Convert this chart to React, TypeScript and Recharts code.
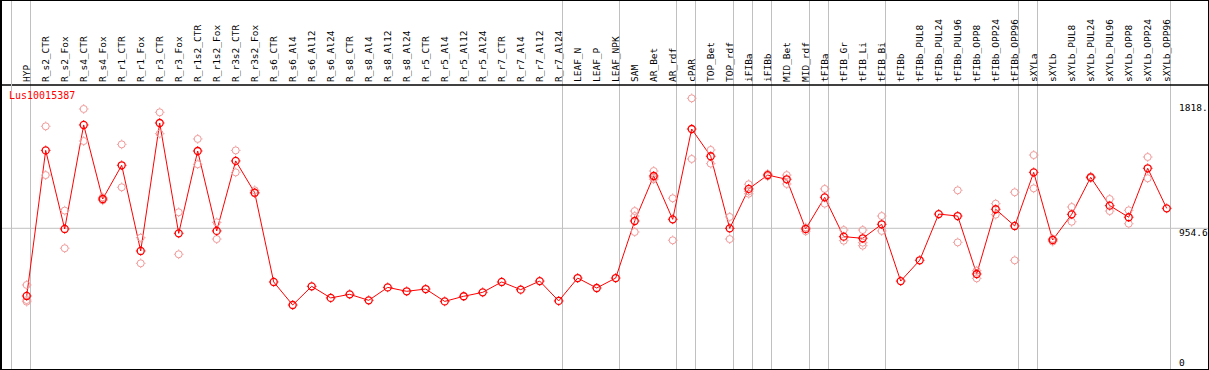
import React from "react";
import { LineChart, Line, XAxis, YAxis, ReferenceLine } from "recharts";

const categories = [
  "HYP", "R_s2_CTR", "R_s2_Fox", "R_s4_CTR", "R_s4_Fox", "R_r1_CTR", "R_r1_Fox", "R_r3_CTR", "R_r3_Fox",
  "R_r1s2_CTR", "R_r1s2_Fox", "R_r3s2_CTR", "R_r3s2_Fox", "R_s6_CTR", "R_s6_Al4", "R_s6_Al12", "R_s6_Al24",
  "R_s8_CTR", "R_s8_Al4", "R_s8_Al12", "R_s8_Al24", "R_r5_CTR", "R_r5_Al4", "R_r5_Al12", "R_r5_Al24",
  "R_r7_CTR", "R_r7_Al4", "R_r7_Al12", "R_r7_Al24", "LEAF_N", "LEAF_P", "LEAF_NPK", "SAM", "AR_Bet", "AR_rdf",
  "cPAR", "TOP_Bet", "TOP_rdf", "iFIBa", "iFIBb", "MID_Bet", "MID_rdf", "tFIBa", "tFIB_Gr", "tFIB_Li", "tFIB_Bi",
  "tFIBb", "tFIBb_PUL8", "tFIBb_PUL24", "tFIBb_PUL96", "tFIBb_OPP8", "tFIBb_OPP24", "tFIBb_OPP96",
  "sXYLa", "sXYLb", "sXYLb_PUL8", "sXYLb_PUL24", "sXYLb_PUL96", "sXYLb_OPP8", "sXYLb_OPP24", "sXYLb_OPP96",
];

const meanValues = [
  505, 1472, 950, 1641, 1149, 1373, 804, 1654, 921, 1468, 937, 1402, 1191, 598, 445, 569, 492,
  516, 476, 562, 536, 551, 469, 503, 529, 598, 547, 604, 472, 624, 558, 624, 1003, 1302, 1014,
  1614, 1433, 954, 1216, 1308, 1280, 950, 1160, 899, 888, 981, 604, 742, 1049, 1036, 651, 1081, 970,
  1326, 877, 1047, 1293, 1105, 1028, 1353, 1087,
];

const rep1 = [
  578, 1632, 1072, 1747, 1160, 1512, 892, 1725, 1061, 1548, 994, 1472, 1207, null, null, null, null,
  null, null, null, null, null, null, null, null, null, null, null, null, null, null, null, 1069, 1335, 1154,
  1818, 1475, 1030, 1247, 1300, 1308, 960, 1216, 943, 943, 1036, null, null, null, 1207, 673, 1118, 1194,
  1441, 866, 1096, 1298, 1149, 1074, 1428, null,
];

const rep2 = [
  478, 1308, 822, 1534, 1140, 1227, 722, 1583, 782, 1380, 883, 1326, 1187, null, null, null, null,
  null, null, null, null, null, null, null, null, null, null, null, null, null, null, null, 1036, 1290, 875,
  1415, 1384, 883, 1184, 1315, 1249, 935, 1118, 872, 859, 937, null, null, null, 861, 622, 1045, 742,
  1220, 885, 998, 1288, 1069, 985, 1287, null,
];

const rep3 = [
  467, null, null, null, null, null, null, null, null, null, null, null, null, null, null, null, null,
  null, null, null, null, null, null, null, null, null, null, null, null, null, null, null, 930, 1280, null,
  null, null, null, 1200, null, null, null, null, null, 839, null, null, null, null, null, null, null, null,
  null, null, null, null, null, null, null, null,
];

// group separator positions (in category units)
const groupBounds = [0.2, 28.2, 31.2, 34.2, 35.2, 37.2, 38.2, 39.2, 41.2, 42.2, 45.2, 52.2, 53.2, 60.2];

const yTickValues = [0, 954.6, 1818];
const yTickLabels = ["0", "954.6", "1818."];
const title = "Lus10015387";

const data = categories.map((name, i) => ({
  idx: i,
  name,
  mean: meanValues[i],
  r1: rep1[i],
  r2: rep2[i],
  r3: rep3[i],
}));

const MONO = "'DejaVu Sans Mono', 'Liberation Mono', monospace";
const RED = "#ff0000";
const PINK = "#f09a9a";
const GRID = "#c0c0c0";

const makeMarker = (color: string, sw: number) => (props: any) => {
  const { cx, cy, key } = props;
  if (cx == null || cy == null || props.value == null) return <g key={key} />;
  return (
    <g key={key}>
      <circle cx={cx} cy={cy} r={3.5} fill="none" stroke={color} strokeWidth={sw} />
      <path
        d={`M${cx} ${cy - 4.8}v1M${cx} ${cy + 3.8}v1M${cx - 4.8} ${cy}h1M${cx + 3.8} ${cy}h1`}
        stroke={color}
        strokeWidth={1}
      />
    </g>
  );
};

const XTick = (props: any) => {
  const { x, payload } = props;
  const label = categories[payload.value];
  if (label == null) return null;
  const tx = x + 3.5;
  const ty = 82;
  return (
    <text
      x={tx}
      y={ty}
      transform={`rotate(-90 ${tx} ${ty})`}
      fontSize={9.5}
      fontFamily={MONO}
      fill="#000"
      textAnchor="start"
    >
      {label}
    </text>
  );
};

const makeYLabel = (text: string) => (props: any) => {
  const vb = props.viewBox || {};
  const y = vb.y ?? 0;
  const right = (vb.x ?? 0) + (vb.width ?? 0);
  const top = Math.min(Math.max(y + 1, 104), 359);
  return (
    <text
      x={right - 29}
      y={top}
      dominantBaseline="hanging"
      fontSize={9.5}
      fontFamily={MONO}
      fill="#000"
    >
      {text}
    </text>
  );
};

export default function App() {
  const slot = 19;
  const plotW = 1207;
  const xMin = -(26.7 - 1) / slot;
  const xMax = xMin + plotW / slot;
  return (
    <div
      style={{
        position: "absolute",
        left: 0,
        top: 0,
        width: 1209,
        height: 370,
        overflow: "hidden",
        background: "#fff",
      }}
    >
      <LineChart
        width={1209}
        height={372}
        data={data}
        margin={{ top: 0, right: 1, bottom: 0, left: 1 }}
      >
        <XAxis
          dataKey="idx"
          type="number"
          orientation="top"
          domain={[xMin, xMax]}
          allowDataOverflow
          ticks={categories.map((_, i) => i)}
          interval={0}
          height={85}
          tick={<XTick />}
          tickLine={false}
          axisLine={{ stroke: "#000", strokeWidth: 1.5 }}
        />
        <YAxis type="number" domain={[0, 1906.3]} allowDataOverflow hide />
        {groupBounds.map((g, i) => (
          <ReferenceLine
            key={`gs${i}`}
            segment={[
              { x: g, y: 0 },
              { x: g, y: 2475 },
            ]}
            ifOverflow="visible"
            stroke={GRID}
            strokeWidth={1}
          />
        ))}
        {yTickValues.map((v, i) => (
          <ReferenceLine
            key={`y${i}`}
            y={v}
            stroke={v === 954.6 ? GRID : "none"}
            strokeWidth={1}
            ifOverflow="visible"
            label={makeYLabel(yTickLabels[i])}
          />
        ))}
        <Line dataKey="r1" stroke="none" isAnimationActive={false} dot={makeMarker(PINK, 1)} activeDot={false} connectNulls={false} />
        <Line dataKey="r2" stroke="none" isAnimationActive={false} dot={makeMarker(PINK, 1)} activeDot={false} connectNulls={false} />
        <Line dataKey="r3" stroke="none" isAnimationActive={false} dot={makeMarker(PINK, 1)} activeDot={false} connectNulls={false} />
        <Line
          dataKey="mean"
          stroke={RED}
          strokeWidth={1}
          isAnimationActive={false}
          dot={makeMarker(RED, 1.3)}
          activeDot={false}
        />
      </LineChart>
      <div
        style={{
          position: "absolute",
          left: 11,
          top: 0,
          width: 1,
          height: 370,
          background: GRID,
          pointerEvents: "none",
        }}
      />
      <div
        style={{
          position: "absolute",
          left: 9,
          top: 91,
          color: RED,
          fontFamily: MONO,
          fontSize: 10,
          lineHeight: "10px",
          whiteSpace: "nowrap",
        }}
      >
        {title}
      </div>
      <div
        style={{
          position: "absolute",
          left: 0,
          top: 0,
          width: 1209,
          height: 370,
          boxSizing: "border-box",
          border: "1px solid #000",
          borderLeftWidth: 2,
          pointerEvents: "none",
        }}
      />
    </div>
  );
}
